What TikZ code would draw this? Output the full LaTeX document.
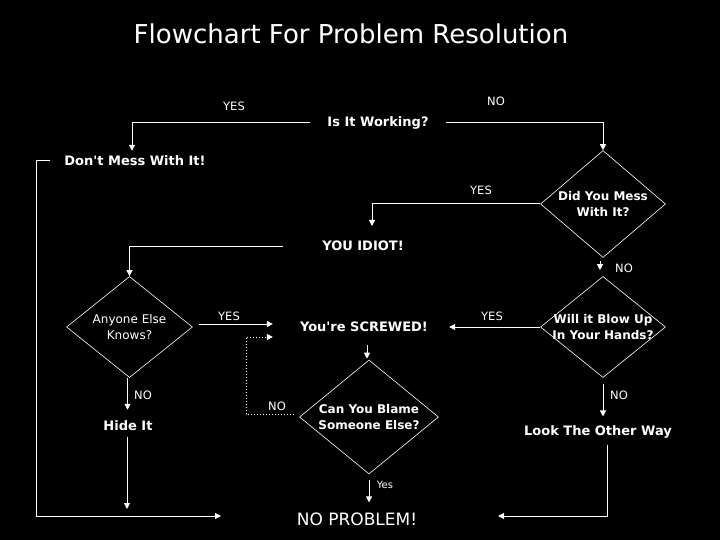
\documentclass[tikz,border=0pt]{standalone}
\usepackage{fontspec}
\setmainfont{DejaVu Sans}
\usetikzlibrary{arrows.meta,shapes.geometric}
\begin{document}
\begin{tikzpicture}[x=1pt,y=-1pt,
  txt/.style={text=white,inner sep=0pt,font=\bfseries\fontsize{13}{16}\selectfont},
  dtxt/.style={text=white,inner sep=0pt,align=center,font=\bfseries\fontsize{12}{16}\selectfont},
  ntxt/.style={text=white,inner sep=0pt,align=center,font=\fontsize{12}{16}\selectfont},
  lbl/.style={text=white,inner sep=0pt,font=\fontsize{11.5}{13}\selectfont},
  dia/.style={draw=white,line width=0.6pt,shape=diamond,inner sep=0pt},
  ln/.style={draw=white,line width=1pt},
  arr/.style={ln,-{Triangle[length=6pt,width=6pt]}},
  darr/.style={arr,dotted}]
\fill[black] (0,0) rectangle (720,540);
\useasboundingbox (0,0) rectangle (720,540);

% title
\node[text=white,inner sep=0pt,font=\fontsize{26}{30}\selectfont] (title) at (351,34) {Flowchart For Problem Resolution};

% nodes
\node[txt] (q1) at (378,123) {Is It Working?};
\node[txt] (dm) at (135,161) {Don\textquotesingle t Mess With It!};
\node[dia,minimum width=125pt,minimum height=107pt] (d1) at (603,204) {};
\node[dtxt] (d1t) at (d1) {Did You Mess\\With It?};
\node[txt] (yi) at (363,246) {YOU IDIOT!};
\node[dia,minimum width=125pt,minimum height=101pt] (d2) at (603,327) {};
\node[dtxt] (d2t) at (d2) {Will it Blow Up\\In Your Hands?};
\node[dia,minimum width=126pt,minimum height=101pt] (d3) at (129.5,327) {};
\node[ntxt] (d3t) at (d3) {Anyone Else\\Knows?};
\node[txt] (sc) at (364,327) {You\textquotesingle re SCREWED!};
\node[dia,minimum width=139pt,minimum height=114pt] (d4) at (369,417) {};
\node[dtxt] (d4t) at (d4) {Can You Blame\\Someone Else?};
\node[text=white,inner sep=0pt,font=\fontsize{17}{20}\selectfont] (np) at (357,519) {NO PROBLEM!};
\node[txt] (hi) at (128,426) {Hide It};
\node[txt] (lo) at (598,432) {Look The Other Way};

% labels
\node[lbl] (l1) at (234,106) {YES};
\node[lbl] (l2) at (496,101) {NO};
\node[lbl] (l3) at (481,190) {YES};
\node[lbl] (l4) at (624,268) {NO};
\node[lbl] (l5) at (229,316) {YES};
\node[lbl] (l6) at (492,316) {YES};
\node[lbl] (l7) at (143,395) {NO};
\node[lbl] (l8) at (277,406) {NO};
\node[lbl] (l9) at (619,395) {NO};
\node[lbl,font=\fontsize{10}{12}\selectfont] (l10) at (385,485) {Yes};

% helper coordinates
\coordinate (bl) at (36,516);
\coordinate (br) at (607,516);
\coordinate (npL) at (221,516);
\coordinate (npR) at (498,516);
\coordinate (yiIn) at (372,226);

% connectors
\draw[arr,shorten <=17pt,shorten >=5pt] (q1.west) -| ([xshift=-3pt]dm.north);
\draw[arr,shorten <=17pt] (q1.east) -| (d1.north);
\draw[arr] ([xshift=-14pt]dm.west) -| (bl) -- (npL);
\draw[arr] (d1.west) -| (yiIn);
\draw[arr] ([xshift=-39pt]yi.west) -| (d3.north);
\draw[arr,shorten <=3pt,shorten >=6pt] ([xshift=-3pt]d1.south) -- ([xshift=-3pt]d2.north);
\draw[arr,shorten >=21pt] (d2.west) -- (d2.west -| sc.east);
\draw[arr] ([xshift=6pt,yshift=3pt]d3.east) -- ([xshift=-27pt,yshift=3pt]sc.west);
\draw[darr] ([xshift=-5pt,yshift=3pt]d4.west) -- ++(-48,0) |- ([xshift=-27pt,yshift=-10pt]sc.west);
\draw[arr,shorten <=13pt,shorten >=1pt] ([xshift=-2pt]d4.north |- sc.south) -- ([xshift=-2pt]d4.north);
\draw[arr,shorten <=6pt,shorten >=10pt] (d4.south) -- (d4.south |- np.north);
\draw[arr,shorten >=11pt] ([xshift=-2pt]d3.south) -- ([xshift=-2pt]d3.south |- hi.north);
\draw[arr,shorten <=6pt,shorten >=7pt] ([xshift=-1pt]hi.south) -- ([xshift=-1pt]hi.south |- bl);
\draw[arr,shorten <=6pt,shorten >=9pt] (d2.south) -- (d2.south |- lo.north);
\draw[arr,shorten <=6pt] (lo.south -| br) -- (br) -- (npR);
\end{tikzpicture}
\end{document}
